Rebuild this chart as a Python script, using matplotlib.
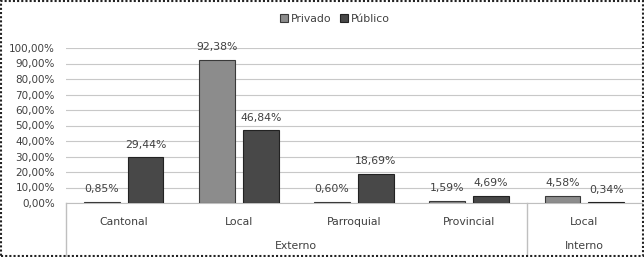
import matplotlib
matplotlib.use("Agg")
import matplotlib.pyplot as plt
import numpy as np
from matplotlib.patches import Rectangle
from matplotlib.lines import Line2D

categories = ["Cantonal", "Local", "Parroquial", "Provincial", "Local"]
groups = ["Externo", "Interno"]
group_sizes = [4, 1]
privado = [0.85, 92.38, 0.60, 1.59, 4.58]
publico = [29.44, 46.84, 18.69, 4.69, 0.34]
yticks = [0, 10, 20, 30, 40, 50, 60, 70, 80, 90, 100]

plt.rcParams['font.family'] = ['DejaVu Sans']
fig = plt.figure(figsize=(6.44, 2.57), dpi=100)
W, H = 644, 257
ax = fig.add_axes([66 / W, 1 - 203 / H, (642 - 66) / W, (203 - 48) / H])

x = np.arange(len(categories))
bw = 0.31
off = 0.19
c_priv = "#8c8c8c"
c_pub = "#484848"
b1 = ax.bar(x - off, privado, bw, color=c_priv, edgecolor="#3a3a3a", linewidth=0.8, zorder=3, label="Privado")
b2 = ax.bar(x + off, publico, bw, color=c_pub, edgecolor="#222222", linewidth=0.8, zorder=3, label="Público")

fmt = lambda v: f"{v:.2f}%".replace(".", ",")
for xs, vals in ((x - off, privado), (x + off, publico)):
    for xi, v in zip(xs, vals):
        ax.text(xi, v + 5, fmt(v), ha="center", va="bottom", fontsize=7.8, color="#404040", zorder=4)

ax.set_xlim(-0.5, len(categories) - 0.5)
ax.set_ylim(0, 100)
ax.set_yticks(yticks)
ax.set_yticklabels([fmt(v) for v in yticks], fontsize=7.5, color="#404040")
ax.tick_params(axis="y", length=0, pad=8)
ax.set_xticks([])
ax.yaxis.grid(True, color="#c8c8c8", linewidth=0.8, zorder=0)
for s in ["top", "right", "left"]:
    ax.spines[s].set_visible(False)
ax.spines["bottom"].set_color("#bfbfbf")

tr = ax.get_xaxis_transform()
for xi, c in zip(x, categories):
    ax.text(xi, -0.123, c, transform=tr, ha="center", va="center", fontsize=7.8, color="#404040")
start = 0
bounds = [-0.5]
for g, n in zip(groups, group_sizes):
    center = start + (n - 1) / 2
    ax.text(center, -0.277, g, transform=tr, ha="center", va="center", fontsize=7.8, color="#404040")
    start += n
    bounds.append(start - 0.5)
for bx in bounds[:-1]:
    ax.add_line(Line2D([bx, bx], [0, -0.35], transform=tr, color="#bfbfbf", linewidth=1.0, clip_on=False))

leg = fig.legend(handles=[b1, b2], labels=["Privado", "Público"], loc="center", bbox_to_anchor=(335 / W, 1 - 19 / H),
                 ncol=2, frameon=False, fontsize=7.8, handlelength=0.7, handleheight=0.7, handletextpad=0.3,
                 columnspacing=0.8)
for t in leg.get_texts():
    t.set_color("#404040")

fig.patches.append(Rectangle((0.002, 0.004), 0.996, 0.992, transform=fig.transFigure, fill=False,
                             edgecolor="#222222", linewidth=1.5, linestyle=(0, (1, 1))))

fig.savefig("out.png", dpi=100)
